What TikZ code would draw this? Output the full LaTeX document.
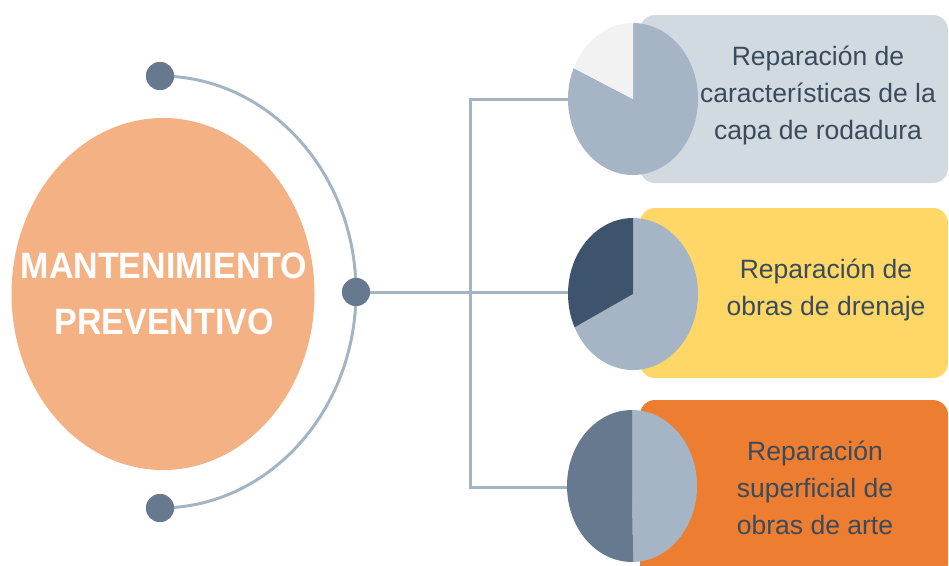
\documentclass[tikz,border=0pt]{standalone}
\usepackage{fontspec}
\setmainfont{Liberation Sans}
\usetikzlibrary{shapes.geometric}
\definecolor{mainc}{HTML}{F4B183}
\definecolor{boxa}{HTML}{D1DAE1}
\definecolor{boxb}{HTML}{FED766}
\definecolor{boxc}{HTML}{ED7D31}
\definecolor{piel}{HTML}{A5B5C5}
\definecolor{pied}{HTML}{3E546D}
\definecolor{piem}{HTML}{66798E}
\definecolor{piew}{HTML}{F2F2F2}
\definecolor{linec}{HTML}{A3B5C5}
\definecolor{dotc}{HTML}{66798E}
\definecolor{txtc}{HTML}{3B4B5C}
\begin{document}
\begin{tikzpicture}[x=1pt,y=-1pt,
  conn/.style={draw=linec,line width=3pt},
  dotnode/.style={circle,fill=dotc,minimum size=28pt,inner sep=0pt},
  boxnode/.style={rounded corners=15pt,minimum width=308pt,inner sep=0pt},
  boxtext/.style={text=txtc,align=center,font=\fontsize{26.5}{37}\selectfont},
  maintext/.style={text=white,align=center,font=\bfseries\fontsize{34}{52}\selectfont}]
\useasboundingbox (0,0) rectangle (949,565);
\clip (0,0) rectangle (949,565);
% boxes
\node[boxnode,fill=boxa,minimum height=168pt] (b1) at (794,99) {};
\node[boxnode,fill=boxb,minimum height=170pt] (b2) at (794,293) {};
\node[boxnode,fill=boxc,minimum height=180pt] (b3) at (794,490) {};
% main ellipse
\node[ellipse,fill=mainc,minimum width=303pt,minimum height=352pt,inner sep=0pt] (main) at (163,294) {};
\node[maintext,yscale=1.08] (mt) at (164,294) {MANTENIMIENTO\\PREVENTIVO};
% coordinates
\coordinate (p1) at (633,99);
\coordinate (p2) at (633,294);
\coordinate (p3) at (632,486);
\coordinate (j) at (470,292);
\coordinate (jt) at (470,99);
\coordinate (jb) at (470,487);
\coordinate (e1) at (575,99);
\coordinate (e2) at (575,292);
\coordinate (e3) at (575,487);
% dots
\node[dotnode] (dtop) at (160,76) {};
\node[dotnode] (dmid) at (356,292) {};
\node[dotnode] (dbot) at (160,508) {};
% arc and connectors
\draw[conn] (dtop.center) arc[start angle=-90,end angle=90,x radius=196,y radius=216];
\draw[conn] (dmid.center) -- (j);
\draw[conn,line cap=rect] (jt) -- (jb);
\draw[conn] (jt) -- (e1);
\draw[conn] (j) -- (e2);
\draw[conn] (jb) -- (e3);
% redraw dots on top
\node[dotnode] at (dtop) {};
\node[dotnode] at (dmid) {};
\node[dotnode] at (dbot) {};
% pies
\begin{scope}[shift={(p1)},x=65pt,y=76pt]
  \fill[piel] (0,0) -- (156:1) arc[start angle=156,end angle=450,radius=1] -- cycle;
  \fill[piew] (0,0) -- (90:1) arc[start angle=90,end angle=156,radius=1] -- cycle;
\end{scope}
\begin{scope}[shift={(p2)},x=65pt,y=76pt]
  \fill[piel] (0,0) -- (206:1) arc[start angle=206,end angle=450,radius=1] -- cycle;
  \fill[pied] (0,0) -- (90:1) arc[start angle=90,end angle=206,radius=1] -- cycle;
\end{scope}
\begin{scope}[shift={(p3)},x=65pt,y=76pt]
  \fill[piel] (0,0) -- (271:1) arc[start angle=271,end angle=450,radius=1] -- cycle;
  \fill[piem] (0,0) -- (90:1) arc[start angle=90,end angle=271,radius=1] -- cycle;
\end{scope}
% texts
\node[boxtext] (t1) at (818,95) {Reparación de\\características de la\\capa de rodadura};
\node[boxtext] (t2) at (826,290) {Reparación de\\obras de drenaje};
\node[boxtext] (t3) at (815,488) {Reparación\\superficial de\\obras de arte};
\end{tikzpicture}
\end{document}
